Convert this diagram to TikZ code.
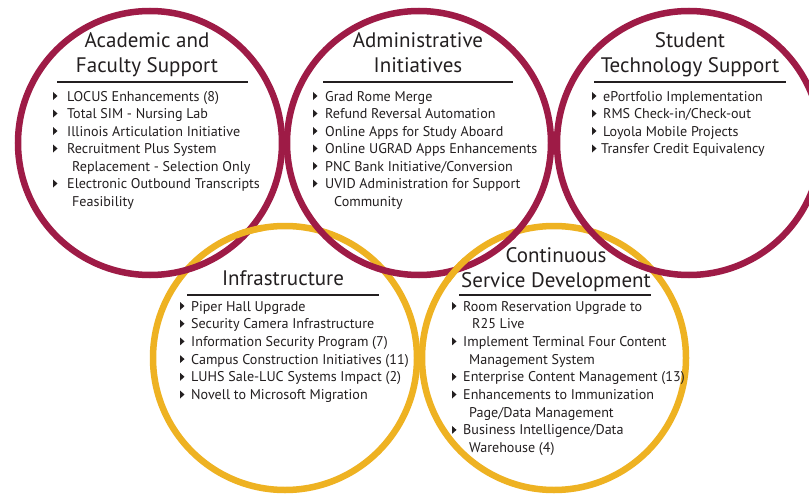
\documentclass[tikz,border=0pt]{standalone}
\usepackage{fontspec}
\setmainfont{PT Sans}
\definecolor{maroon}{RGB}{158,27,70}
\definecolor{gold}{RGB}{238,178,34}
\definecolor{ink}{RGB}{35,31,32}
\newcommand\bul[2]{\fill[ink] (#1,#2-9) -- (#1+4.5,#2-5) -- (#1,#2-1) -- cycle;}
\begin{document}
\begin{tikzpicture}[x=1pt,y=-1pt,
  ring/.style={line width=6.5pt},
  ttl/.style={anchor=base,inner sep=0pt,text=ink,font=\fontsize{21}{24}\selectfont},
  itm/.style={anchor=base west,inner sep=0pt,text=ink,font=\fontsize{14.1}{17}\selectfont},
  rule/.style={draw=ink,line width=1.1pt}]
\clip (0,0) rectangle (809,495);
\fill[white] (0,0) rectangle (809,495);
\coordinate (c1) at (150,143);
\coordinate (c2) at (419,143);
\coordinate (c3) at (689,143);
\coordinate (c4) at (285,358);
\coordinate (c5) at (554,358);
% gold rings
\draw[ring,gold] (c4) circle[radius=132];
\draw[ring,gold] (c5) circle[radius=132];
% maroon rings
\draw[ring,maroon] (c1) circle[radius=132];
\draw[ring,maroon] (c2) circle[radius=132];
\draw[ring,maroon] (c3) circle[radius=132];
% gold over maroon at two crossings
\draw[ring,gold] (c4) ++(-100:132) arc[start angle=-100,end angle=-112,radius=132];
\draw[ring,gold] (c5) ++(-132:132) arc[start angle=-132,end angle=-144,radius=132];

% ---------- Academic and Faculty Support
\node[ttl] (t1a) at (147,48) {Academic and};
\node[ttl] (t1b) at (147,73) {Faculty Support};
\coordinate (r1a) at (57,82); \coordinate (r1b) at (248,82);
\draw[rule] (r1a) -- (r1b);
\bul{53}{101}\node[itm] (a1) at (67,101) {LOCUS Enhancements (8)};
\bul{53}{118.5}\node[itm] (a2) at (67,118.5) {Total SIM - Nursing Lab};
\bul{53}{136}\node[itm] (a3) at (67,136) {Illinois Articulation Initiative};
\bul{53}{153.5}\node[itm] (a4) at (67,153.5) {Recruitment Plus System};
\node[itm] (a4b) at (72,171) {Replacement - Selection Only};
\bul{53}{188.5}\node[itm] (a5) at (67,188.5) {Electronic Outbound Transcripts};
\node[itm] (a5b) at (72,206) {Feasibility};

% ---------- Administrative Initiatives
\node[ttl] (t2a) at (418,48) {Administrative};
\node[ttl] (t2b) at (418,73) {Initiatives};
\coordinate (r2a) at (323,82); \coordinate (r2b) at (513,82);
\draw[rule] (r2a) -- (r2b);
\bul{313}{101}\node[itm] (b1) at (325,101) {Grad Rome Merge};
\bul{313}{118.5}\node[itm] (b2) at (325,118.5) {Refund Reversal Automation};
\bul{313}{136}\node[itm] (b3) at (325,136) {Online Apps for Study Aboard};
\bul{313}{153.5}\node[itm] (b4) at (325,153.5) {Online UGRAD Apps Enhancements};
\bul{313}{171}\node[itm] (b5) at (325,171) {PNC Bank Initiative/Conversion};
\bul{313}{188.5}\node[itm] (b6) at (325,188.5) {UVID Administration for Support};
\node[itm] (b6b) at (334,206) {Community};

% ---------- Student Technology Support
\node[ttl] (t3a) at (690,48) {Student};
\node[ttl] (t3b) at (690,73) {Technology Support};
\coordinate (r3a) at (594,82); \coordinate (r3b) at (786,82);
\draw[rule] (r3a) -- (r3b);
\bul{592}{101}\node[itm] (s1) at (603,101) {ePortfolio Implementation};
\bul{592}{118.5}\node[itm] (s2) at (603,118.5) {RMS Check-in/Check-out};
\bul{592}{136}\node[itm] (s3) at (603,136) {Loyola Mobile Projects};
\bul{592}{153.5}\node[itm] (s4) at (601,153.5) {Transfer Credit Equivalency};

% ---------- Infrastructure
\node[ttl] (t4a) at (283,285) {Infrastructure};
\coordinate (r4a) at (187,295); \coordinate (r4b) at (379,295);
\draw[rule] (r4a) -- (r4b);
\bul{180}{311}\node[itm] (i1) at (191,311) {Piper Hall Upgrade};
\bul{180}{328.7}\node[itm] (i2) at (191,328.7) {Security Camera Infrastructure};
\bul{180}{346.4}\node[itm] (i3) at (191,346.4) {Information Security Program (7)};
\bul{180}{364.1}\node[itm] (i4) at (191,364.1) {Campus Construction Initiatives (11)};
\bul{180}{381.8}\node[itm] (i5) at (191,381.8) {LUHS Sale-LUC Systems Impact (2)};
\bul{180}{399.5}\node[itm] (i6) at (191,399.5) {Novell to Microsoft Migration};

% ---------- Continuous Service Development
\node[ttl] (t5a) at (556,262) {Continuous};
\node[ttl] (t5b) at (556,287) {Service Development};
\coordinate (r5a) at (459,295); \coordinate (r5b) at (651,295);
\draw[rule] (r5a) -- (r5b);
\bul{452}{311}\node[itm] (d1) at (463,311) {Room Reservation Upgrade to};
\node[itm] (d1b) at (472,328.7) {R25 Live};
\bul{452}{346.4}\node[itm] (d2) at (463,346.4) {Implement Terminal Four Content};
\node[itm] (d2b) at (469,364.1) {Management System};
\bul{452}{381.8}\node[itm] (d3) at (463,381.8) {Enterprise Content Management (13)};
\bul{452}{399.5}\node[itm] (d4) at (463,399.5) {Enhancements to Immunization};
\node[itm] (d4b) at (469,417.2) {Page/Data Management};
\bul{452}{434.9}\node[itm] (d5) at (463,434.9) {Business Intelligence/Data};
\node[itm] (d5b) at (469,452.6) {Warehouse (4)};
\end{tikzpicture}
\end{document}
